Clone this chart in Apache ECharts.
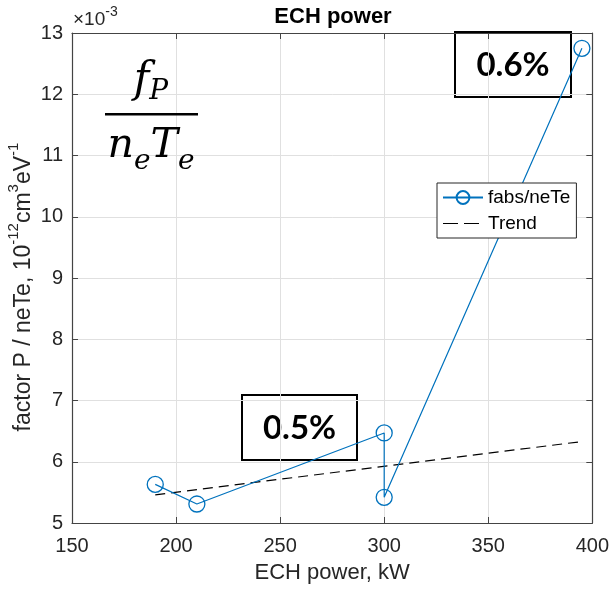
<!DOCTYPE html>
<html><head><meta charset="utf-8">
<script src="https://cdn.jsdelivr.net/npm/echarts@6/dist/echarts.min.js"></script>
<style>html,body{margin:0;padding:0;background:#fff}#c{width:612px;height:589px}</style>
</head><body><div id="c"></div>
<script>
// ---- data ----
const power = [190, 210, 300, 300, 395];
const fabsNeTe = [5.63, 5.31, 6.47, 5.42, 12.75];
const trendPower = [190, 395];
const trendValues = [5.46, 6.33];
const xTicks = [150, 200, 250, 300, 350, 400];
const yTicks = [5, 6, 7, 8, 9, 10, 11, 12, 13];
const seriesNames = ['fabs/neTe', 'Trend'];
const boxLabels = ['0.6%', '0.5%'];

const FONT = 'Liberation Sans';
const AX = '#262626';
const xMin = xTicks[0], xMax = xTicks[xTicks.length - 1], xStep = xTicks[1] - xTicks[0];
const yMin = yTicks[0], yMax = yTicks[yTicks.length - 1], yStep = yTicks[1] - yTicks[0];

function axisBase(pos, isX, main) {
  return {
    type: 'value', position: pos,
    min: isX ? xMin : yMin, max: isX ? xMax : yMax, interval: isX ? xStep : yStep,
    axisLine: { show: true, lineStyle: { color: '#444', width: 1.2 } },
    axisTick: { show: true, inside: true, length: 6, lineStyle: { color: '#444', width: 1 } },
    axisLabel: { show: main, color: AX, fontSize: 20, fontFamily: FONT, margin: isX ? 13 : 9 },
    splitLine: { show: main, lineStyle: { color: '#e0e0e0', width: 1 } }
  };
}

const chart = echarts.init(document.getElementById('c'), null, { renderer: 'canvas' });
const xMain = axisBase('bottom', true, true);
xMain.name = 'ECH power, kW';
xMain.nameLocation = 'middle';
xMain.nameGap = 39;
xMain.nameTextStyle = { fontSize: 22, color: AX, fontFamily: FONT };

const option = {
  animation: false,
  backgroundColor: '#fff',
  color: ['#0072BD', '#000'],
  grid: { left: 72, right: 18, top: 33, bottom: 62, containLabel: false },
  xAxis: [xMain, axisBase('top', true, false)],
  yAxis: [axisBase('left', false, true), axisBase('right', false, false)],
  legend: {
    orient: 'vertical', left: 437, top: 183,
    itemWidth: 40, itemHeight: 16, itemGap: 7,
    padding: [5, 6, 5, 5],
    borderColor: AX, borderWidth: 1, backgroundColor: '#fff',
    textStyle: { fontSize: 19, color: '#000', fontFamily: FONT },
    data: [
      { name: seriesNames[0] },
      { name: seriesNames[1], itemStyle: { opacity: 0 }, lineStyle: { type: [15, 6], color: '#000', width: 1.2 } }
    ]
  },
  series: [
    {
      name: seriesNames[0], type: 'line', xAxisIndex: 0, yAxisIndex: 0,
      data: power.map((p, i) => [p, fabsNeTe[i]]),
      symbol: 'circle', symbolSize: 16,
      itemStyle: { color: 'rgba(255,255,255,0)', borderColor: '#0072BD', borderWidth: 1.3 },
      lineStyle: { color: '#0072BD', width: 1.2 },
      z: 3
    },
    {
      name: seriesNames[1], type: 'line', xAxisIndex: 0, yAxisIndex: 0,
      data: trendPower.map((p, i) => [p, trendValues[i]]),
      symbol: 'none',
      itemStyle: { color: '#000' },
      lineStyle: { color: '#000', width: 1.2, type: [10, 6] },
      z: 2
    }
  ],
  graphic: [
    { type: 'text', x: 333, y: 17, z: 50,
      style: { text: 'ECH power', font: 'bold 22px "Liberation Sans"', fill: '#000', align: 'center', verticalAlign: 'middle' } },
    { type: 'text', x: 73, y: 29, z: 50,
      style: { text: '{a|×10}{b|-3}', align: 'left', verticalAlign: 'bottom',
        rich: { a: { fontSize: 19, fontFamily: FONT, fill: AX, lineHeight: 24, verticalAlign: 'bottom' },
                b: { fontSize: 14, fontFamily: FONT, fill: AX, lineHeight: 14, verticalAlign: 'top' } } } },
    { type: 'text', x: 21, y: 287, rotation: Math.PI / 2, z: 50,
      style: { text: '{a|factor P / neTe, 10}{b|-12}{a|cm}{b|3}{a|eV}{b|-1}', align: 'center', verticalAlign: 'middle',
        rich: { a: { fontSize: 23, fontFamily: FONT, fill: AX, lineHeight: 29, verticalAlign: 'bottom' },
                b: { fontSize: 15, fontFamily: FONT, fill: AX, lineHeight: 15, verticalAlign: 'top' } } } },
    // fraction f_P / (n_e T_e)
    { type: 'text', x: 151, y: 106, z: 50,
      style: { text: '{i|f}{s|P}', align: 'center', verticalAlign: 'bottom',
        rich: { i: { fontSize: 42, fontFamily: 'DejaVu Serif', fontStyle: 'italic', fill: '#000', lineHeight: 46, verticalAlign: 'top' },
                s: { fontSize: 28, fontFamily: 'DejaVu Serif', fontStyle: 'italic', fill: '#000', lineHeight: 30, verticalAlign: 'bottom' } } } },
    { type: 'rect', z: 50, shape: { x: 105, y: 113, width: 93, height: 2.5 }, style: { fill: '#000' } },
    { type: 'text', x: 151, y: 126, z: 50,
      style: { text: '{i|n}{s|e}{i|T}{s|e}', align: 'center', verticalAlign: 'top',
        rich: { i: { fontSize: 41, fontFamily: 'DejaVu Serif', fontStyle: 'italic', fill: '#000', lineHeight: 40, verticalAlign: 'top' },
                s: { fontSize: 28, fontFamily: 'DejaVu Serif', fontStyle: 'italic', fill: '#000', lineHeight: 50, verticalAlign: 'bottom' } } } },
    // annotation boxes
    { type: 'group', z: 100, children: [
      { type: 'rect', shape: { x: 455, y: 32, width: 116, height: 65 }, style: { fill: '#fff', stroke: '#000', lineWidth: 2, lineJoin: 'miter' } },
      { type: 'text', x: 513, y: 65, style: { text: boxLabels[0], font: 'bold 33px Lato', fill: '#000', align: 'center', verticalAlign: 'middle' } }
    ] },
    { type: 'group', z: 100, children: [
      { type: 'rect', shape: { x: 242, y: 395, width: 115, height: 65 }, style: { fill: '#fff', stroke: '#000', lineWidth: 2, lineJoin: 'miter' } },
      { type: 'text', x: 299.5, y: 428, style: { text: boxLabels[1], font: 'bold 33px Lato', fill: '#000', align: 'center', verticalAlign: 'middle' } }
    ] }
  ]
};
chart.setOption(option);
</script></body></html>
